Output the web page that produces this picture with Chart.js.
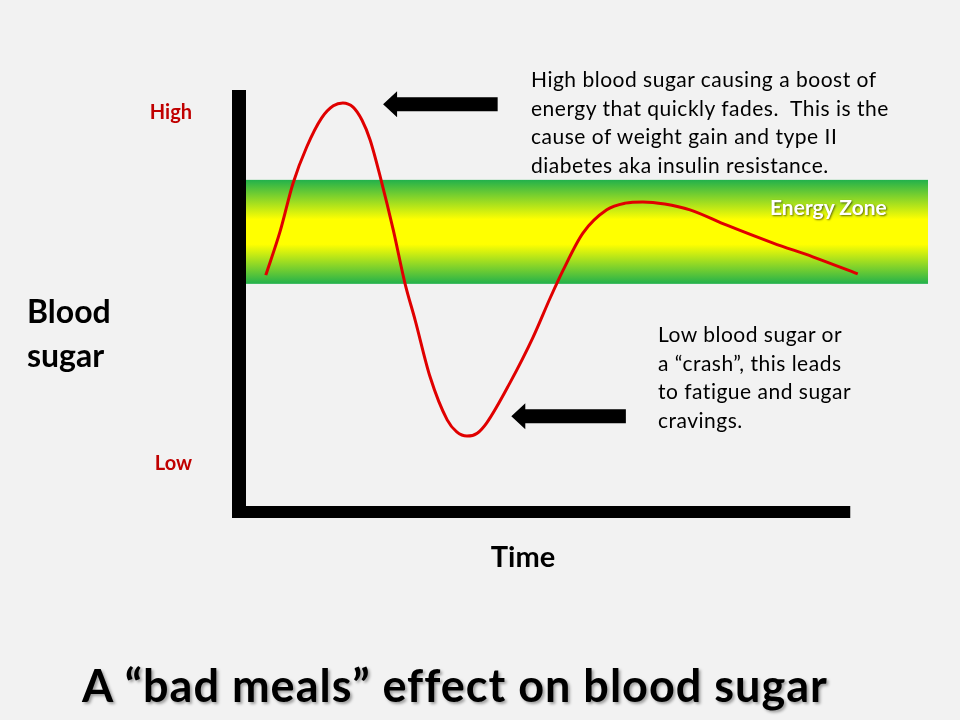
<!DOCTYPE html>
<html>
<head>
<meta charset="utf-8">
<script src="https://cdn.jsdelivr.net/npm/chart.js@4/dist/chart.umd.min.js"></script>
<style>
  html, body { margin: 0; padding: 0; background: #f2f2f2; }
  #wrap { position: relative; width: 960px; height: 720px; font-family: Lato, "Open Sans", sans-serif; color: #000; }
  #chart { position: absolute; left: 0; top: 0; }
  .note { position: absolute; font-size: 21px; line-height: 28.5px; letter-spacing: 0.5px; white-space: pre; }
  #ylab { position: absolute; left: 27px; top: 289px; font-size: 32px; line-height: 44px; font-weight: bold; }
  #xlab { position: absolute; left: 423px; width: 200px; text-align: center; top: 538px; font-size: 29px; font-weight: bold; }
  #zone { position: absolute; left: 770px; top: 194px; font-size: 21px; font-weight: bold; color: #fff; text-shadow: 1px 1px 2px rgba(0,0,0,0.55); }
  #title { position: absolute; left: 82px; top: 658px; font-size: 45px; letter-spacing: 1px; font-weight: bold; white-space: pre; text-shadow: 2px 2px 3px rgba(0,0,0,0.35); }
</style>
</head>
<body>
<div id="wrap">
  <canvas id="chart" width="960" height="720"></canvas>
  <div class="note" style="left:531px; top:65px;">High blood sugar causing a boost of
energy that quickly fades.  This is the
cause of weight gain and type II
diabetes aka insulin resistance.</div>
  <div class="note" style="left:658px; top:320px;">Low blood sugar or
a “crash”, this leads
to fatigue and sugar
cravings.</div>
  <div id="ylab">Blood<br>sugar</div>
  <div id="xlab">Time</div>
  <div id="zone">Energy Zone</div>
  <div id="title">A “bad meals” effect on blood sugar</div>
</div>
<script>
// time (0-100) and blood sugar level (0-100)
const timeValues = [2.9, 5.0, 6.9, 8.9, 11.1, 12.8, 14.2, 15.7, 17.0, 18.2, 19.8, 21.6, 23.3, 24.8, 27.0, 29.5, 30.9, 32.4, 33.9, 35.3, 38.7, 42.1, 44.6, 46.5, 49.4, 52.9, 55.6, 58.2, 61.4, 65.1, 70.5, 77.3, 83.1, 89.7];
const sugarValues = [55.5, 66.0, 77.6, 86.3, 93.3, 96.2, 96.9, 95.9, 92.8, 88.0, 78.4, 66.3, 53.6, 44.7, 31.0, 20.7, 17.8, 16.8, 17.5, 20.0, 29.6, 40.6, 50.0, 56.7, 65.6, 71.2, 72.8, 73.1, 72.6, 71.2, 67.5, 63.2, 59.9, 55.8];

const tickValues = [10.1, 94.7];
const tickLabels = ['Low', 'High'];

// energy zone band (sugar range) and axis extent
const zoneRange = [53.4, 78.4];
const xAxisEnd = 88.6;

// arrows: [tip time, tail time, sugar level]
const arrows = [[20.1, 36.9, 96.6], [38.9, 55.7, 21.6]];

const points = timeValues.map((t, i) => ({ x: t, y: sugarValues[i] }));

const decor = {
  id: 'decor',
  beforeDatasetsDraw(chart) {
    const { ctx, scales: { x, y } } = chart;
    const top = y.getPixelForValue(zoneRange[1]);
    const bot = y.getPixelForValue(zoneRange[0]);
    const g = ctx.createLinearGradient(0, top, 0, bot);
    g.addColorStop(0, '#22b14c');
    g.addColorStop(0.38, '#ffff00');
    g.addColorStop(0.62, '#ffff00');
    g.addColorStop(1, '#22b14c');
    ctx.save();
    ctx.fillStyle = g;
    ctx.fillRect(x.getPixelForValue(0), top, x.getPixelForValue(100) - x.getPixelForValue(0), bot - top);
    ctx.restore();
  },
  afterDatasetsDraw(chart) {
    const { ctx, scales: { x, y } } = chart;
    const x0 = x.getPixelForValue(0);
    const y0 = y.getPixelForValue(0);
    ctx.save();
    ctx.fillStyle = '#000';
    // vertical axis bar
    ctx.fillRect(x0 - 14, y.getPixelForValue(100), 14, y0 - y.getPixelForValue(100) + 12);
    // horizontal axis bar
    ctx.fillRect(x0 - 14, y0, x.getPixelForValue(xAxisEnd) - x0 + 14, 12);
    // arrows
    arrows.forEach(([tip, tail, lvl]) => {
      const tx = x.getPixelForValue(tip);
      const ex = x.getPixelForValue(tail);
      const cy = y.getPixelForValue(lvl);
      ctx.beginPath();
      ctx.moveTo(tx, cy);
      ctx.lineTo(tx + 14, cy - 13);
      ctx.lineTo(tx + 14, cy - 7);
      ctx.lineTo(ex, cy - 7);
      ctx.lineTo(ex, cy + 7);
      ctx.lineTo(tx + 14, cy + 7);
      ctx.lineTo(tx + 14, cy + 13);
      ctx.closePath();
      ctx.fill();
    });
    ctx.restore();
  }
};

new Chart(document.getElementById('chart'), {
  type: 'line',
  data: {
    datasets: [{
      data: points,
      borderColor: '#e00000',
      borderWidth: 3,
      pointRadius: 0,
      cubicInterpolationMode: 'monotone',
      fill: false
    }]
  },
  options: {
    responsive: false,
    animation: false,
    devicePixelRatio: 1,
    layout: { padding: { top: 90, right: 32, bottom: 214, left: 0 } },
    plugins: { legend: { display: false }, tooltip: { enabled: false } },
    scales: {
      x: { type: 'linear', display: false, min: 0, max: 100 },
      y: {
        type: 'linear', min: 0, max: 100,
        afterFit(scale) { scale.width = 246; },
        afterBuildTicks(scale) { scale.ticks = tickValues.map(v => ({ value: v })); },
        grid: { display: false, drawTicks: false },
        border: { display: false },
        ticks: {
          padding: 54,
          color: '#c00000',
          font: { family: 'Lato', size: 20, weight: 'bold' },
          callback: (v, i) => tickLabels[i]
        }
      }
    }
  },
  plugins: [decor]
});
</script>
</body>
</html>
